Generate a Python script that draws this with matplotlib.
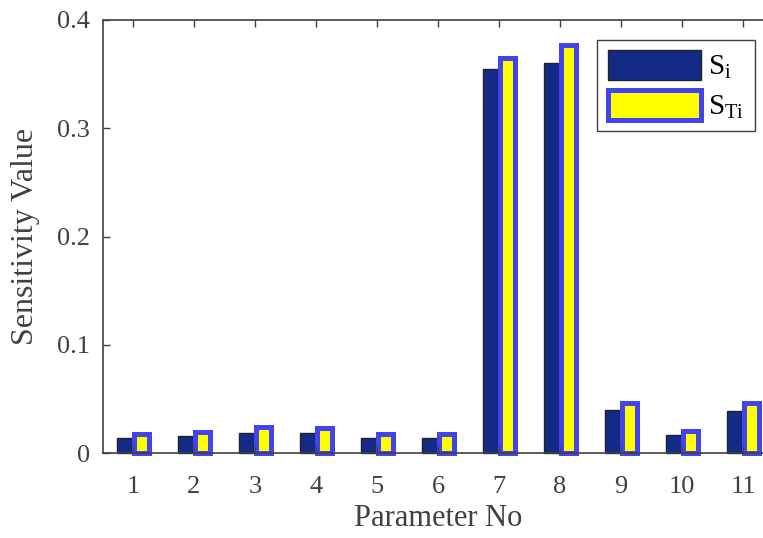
import matplotlib
matplotlib.use("Agg")
import matplotlib.pyplot as plt
import numpy as np

params = np.arange(1, 12)
s_i = [0.014, 0.016, 0.019, 0.019, 0.014, 0.014, 0.355, 0.360, 0.040, 0.017, 0.039]
s_ti = [0.018, 0.020, 0.024, 0.023, 0.018, 0.018, 0.365, 0.377, 0.046, 0.021, 0.046]

plt.rcParams["font.family"] = ["Liberation Serif", "DejaVu Serif"]
plt.rcParams["mathtext.fontset"] = "custom"
plt.rcParams["mathtext.rm"] = "Liberation Serif"
plt.rcParams["mathtext.it"] = "Liberation Serif"

grey = "#404040"
fig = plt.figure(figsize=(7.63, 5.38), dpi=100)
ax = fig.add_axes([102.5 / 763, 1 - 453.3 / 538, 671 / 763, 433.3 / 538])

w = 0.24
ax.bar(params - 0.14, s_i, w, color="#142a87", edgecolor="#222222",
       linewidth=1.0, clip_on=False, label=r"$\mathregular{S_i}$")
ax.bar(params + 0.14, s_ti, w, color="#ffff00", edgecolor="#4444ee",
       linewidth=3.6, clip_on=False, label=r"$\mathregular{S_{Ti}}$")

ax.set_xlim(0.5, 11.5)
ax.set_ylim(0, 0.4)
ax.set_xticks(params)
ax.set_yticks([0, 0.1, 0.2, 0.3, 0.4])
ax.set_yticklabels(["0", "0.1", "0.2", "0.3", "0.4"])
ax.tick_params(direction="in", top=True, right=True, length=5, width=1,
               colors=grey, labelsize=19)
ax.tick_params(axis="x", pad=16)
ax.tick_params(axis="y", pad=9)
for s in ax.spines.values():
    s.set_color(grey)
    s.set_linewidth(1.2)
ax.set_xlabel("Parameter No", fontsize=22, color=grey, labelpad=5)
ax.set_ylabel("Sensitivity Value", fontsize=23, color=grey, labelpad=12)

leg = ax.legend(loc="upper right", bbox_to_anchor=(652 / 671, 1 - 20 / 433.3),
                fontsize=21, handlelength=3.2, handleheight=1.2,
                fancybox=False, framealpha=1, edgecolor=grey,
                borderpad=0.35, labelspacing=0.3, handletextpad=0.25,
                borderaxespad=0)
leg.get_frame().set_linewidth(1.0)

fig.savefig("out.png", dpi=100)
